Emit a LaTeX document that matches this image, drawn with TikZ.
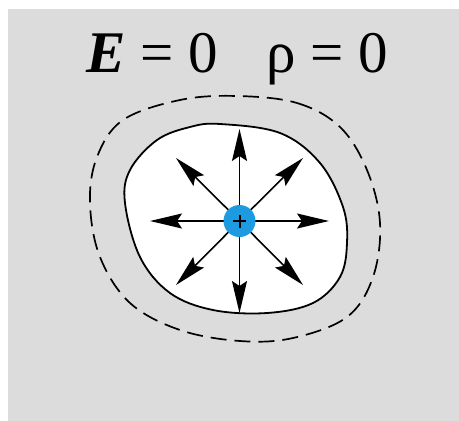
\documentclass[tikz,border=0pt]{standalone}
\usepackage{fontspec}
\setmainfont{Liberation Serif}
\usetikzlibrary{arrows.meta}
\definecolor{bggray}{RGB}{220,220,220}
\definecolor{chargeblue}{RGB}{30,154,224}
\begin{document}
\begin{tikzpicture}[x=1pt,y=-1pt,
  fieldarrow/.style={line width=1.6pt,-{Stealth[length=32pt,width=15pt,inset=5pt]}},
  outline/.style={line width=1.8pt},
  dashline/.style={line width=1.7pt,dash pattern=on 16pt off 8pt},
  eqtext/.style={font=\fontsize{59}{59}\selectfont,inner sep=0pt,anchor=base west}]
\useasboundingbox (0,0) rectangle (459,421);
\fill[white] (0,0) rectangle (459,421);
\fill[bggray] (8,9) rectangle (459,421);
\node[eqtext] (e) at (86,72) {\textbf{\textit{E}} = 0};
\node[eqtext] (rho) at (266,72) {ρ = 0};
\draw[dashline] plot[smooth cycle,tension=0.6] coordinates {
 (237,96) (297,103) (340,127) (367,170) (380,223) (373,277) (347,317)
 (293,338) (240,341) (180,330) (130,303) (100,257) (90,203) (97,157) (123,120) (180,100)};
\draw[outline,fill=white] plot[smooth cycle,tension=0.6] coordinates {
 (220,124) (280,133) (320,163) (343,207) (347,243) (340,277) (313,303)
 (267,313) (213,310) (170,293) (140,257) (125,203) (130,170) (157,140) (190,127)};
\coordinate (c) at (239.5,221);
\coordinate (tn) at (239.5,129);
\coordinate (ts) at (239.5,313);
\coordinate (tw) at (150,221);
\coordinate (te) at (329,221);
\coordinate (tnw) at (176,158);
\coordinate (tne) at (303,158);
\coordinate (tsw) at (176,285);
\coordinate (tse) at (303,285);
\foreach \t in {tn,ts,tw,te,tnw,tne,tsw,tse}
  \draw[fieldarrow] (c) -- (\t);
\node[circle,fill=chargeblue,minimum size=32pt,inner sep=0pt] (q) at (c) {};
\draw[line width=2pt] ([xshift=-6.5pt]q.center) -- ([xshift=6.5pt]q.center)
  ([yshift=-6.5pt]q.center) -- ([yshift=6.5pt]q.center);
\end{tikzpicture}
\end{document}
